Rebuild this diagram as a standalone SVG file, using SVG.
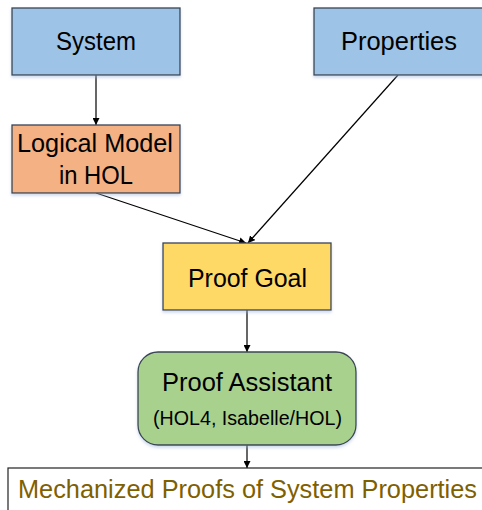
<svg xmlns="http://www.w3.org/2000/svg" width="482" height="510" viewBox="0 0 482 510">
  <style>
    .box { stroke: #3a4454; stroke-width: 1.3; }
    .label { font-family: "Liberation Sans", Arial, sans-serif; font-size: 25.5px; fill: #000; text-anchor: middle; }
    .small { font-size: 20px; }
    .link { stroke: #000; stroke-width: 1.2; fill: none; marker-end: url(#arrow); }
  </style>
  <defs>
    <marker id="arrow" viewBox="0 0 10 10" refX="10" refY="5" markerWidth="7" markerHeight="7" markerUnits="userSpaceOnUse" orient="auto">
      <path d="M0,0 L10,5 L0,10 z" fill="#000"/>
    </marker>
    <filter id="shadow" x="-10%" y="-10%" width="120%" height="130%">
      <feDropShadow dx="0" dy="2" stdDeviation="1.5" flood-color="#9db4d8" flood-opacity="0.5"/>
    </filter>
  </defs>

  <g id="connectors">
    <line class="link" x1="96" y1="75" x2="96" y2="125"/>
    <line class="link" x1="96" y1="193" x2="246" y2="243"/>
    <line class="link" x1="398" y1="75" x2="248" y2="243"/>
    <line class="link" x1="247" y1="310" x2="247" y2="352"/>
    <line class="link" x1="247" y1="445" x2="247" y2="468"/>
  </g>

  <g id="system">
    <rect class="box" x="12" y="8" width="168" height="67" fill="#9dc3e6" filter="url(#shadow)"/>
    <text class="label" x="96" y="50" textLength="80" lengthAdjust="spacingAndGlyphs">System</text>
  </g>

  <g id="properties">
    <rect class="box" x="314" y="8" width="180" height="67" fill="#9dc3e6" filter="url(#shadow)"/>
    <text class="label" x="399" y="50" textLength="116" lengthAdjust="spacingAndGlyphs">Properties</text>
  </g>

  <g id="logical-model">
    <rect class="box" x="12" y="125" width="168" height="68" fill="#f4b183" filter="url(#shadow)"/>
    <text class="label" x="95" y="152" textLength="156" lengthAdjust="spacingAndGlyphs">Logical Model</text>
    <text class="label" x="96" y="184" textLength="74" lengthAdjust="spacingAndGlyphs">in HOL</text>
  </g>

  <g id="proof-goal">
    <rect class="box" x="163" y="243" width="168" height="67" fill="#ffd966" filter="url(#shadow)"/>
    <text class="label" x="247.5" y="287" textLength="119" lengthAdjust="spacingAndGlyphs">Proof Goal</text>
  </g>

  <g id="proof-assistant">
    <rect class="box" x="138" y="352" width="218" height="93" rx="20" ry="20" fill="#a9d18e" filter="url(#shadow)"/>
    <text class="label" x="247" y="391" textLength="170" lengthAdjust="spacingAndGlyphs">Proof Assistant</text>
    <text class="label small" x="247.5" y="425" textLength="189" lengthAdjust="spacingAndGlyphs">(HOL4, Isabelle/HOL)</text>
  </g>

  <g id="mechanized-proofs">
    <rect x="8" y="468" width="490" height="60" fill="#fff" stroke="#222" stroke-width="1.2"/>
    <text class="label" x="247.5" y="498" textLength="459" lengthAdjust="spacingAndGlyphs" style="fill:#7f6000">Mechanized Proofs of System Properties</text>
  </g>
</svg>
